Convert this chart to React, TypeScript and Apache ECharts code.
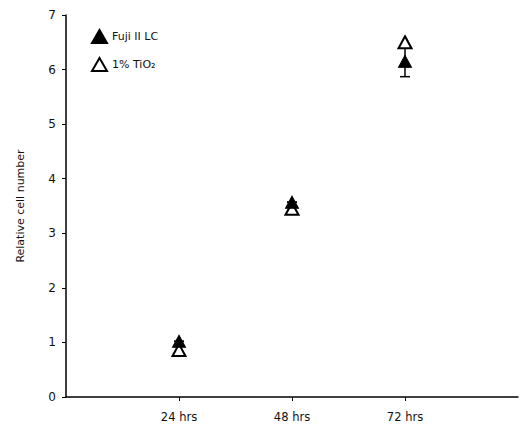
import React, { useEffect, useRef } from "react";
import * as echarts from "echarts";

const timeLabels = ["24 hrs", "48 hrs", "72 hrs"];
const fujiValues = [1.02, 3.57, 6.15];
const tio2Values = [0.86, 3.45, 6.5];
const fujiErrLow = [1.02, 3.57, 5.87];
const fujiErrHigh = [1.02, 3.57, 6.43];
const yTicks = [0, 1, 2, 3, 4, 5, 6, 7];

export default function App() {
  const ref = useRef<HTMLDivElement>(null);
  useEffect(() => {
    if (!ref.current) return;
    const chart = echarts.init(ref.current, null, { renderer: "svg" });
    const cats = ["", ...timeLabels, ""];
    const font = "DejaVu Sans";
    const errData = timeLabels.map((_, i) => [i + 1, fujiErrLow[i], fujiErrHigh[i]]);
    chart.setOption({
      animation: false,
      backgroundColor: "#fff",
      textStyle: { fontFamily: font, color: "#111" },
      grid: { left: 66, right: 4, top: 15, bottom: 30, containLabel: false },
      legend: {
        orient: "vertical",
        left: 86,
        top: 24,
        itemGap: 13,
        itemWidth: 15,
        itemHeight: 13,
        textStyle: { fontFamily: font, fontSize: 11, color: "#111" },
        data: [
          { name: "Fuji II LC", icon: "triangle" },
          { name: "1% TiO₂", icon: "triangle" },
        ],
      },
      xAxis: {
        type: "category",
        data: cats,
        boundaryGap: false,
        axisLine: { lineStyle: { color: "#000", width: 1.5 } },
        axisTick: {
          length: 4,
          interval: (idx: number) => idx > 0 && idx < cats.length - 1,
          lineStyle: { color: "#000" },
        },
        axisLabel: {
          interval: 0,
          fontFamily: font,
          fontSize: 11.5,
          color: "#111",
          margin: 14,
        },
        splitLine: { show: false },
      },
      yAxis: {
        type: "value",
        min: yTicks[0],
        max: yTicks[yTicks.length - 1],
        interval: 1,
        name: "Relative cell number",
        nameLocation: "middle",
        nameGap: 40,
        nameTextStyle: { fontFamily: font, fontSize: 11, color: "#111" },
        axisLine: { show: true, lineStyle: { color: "#000", width: 1.5 } },
        axisTick: { show: true, length: 4, lineStyle: { color: "#000" } },
        axisLabel: { fontFamily: font, fontSize: 12, color: "#111", margin: 10 },
        splitLine: { show: false },
      },
      series: [
        {
          type: "custom",
          name: "err",
          z: 1,
          data: errData,
          renderItem: (params: any, api: any) => {
            const x = api.value(0);
            const lo = api.coord([x, api.value(1)]);
            const hi = api.coord([x, api.value(2)]);
            const hw = 5;
            const style = { stroke: "#000", lineWidth: 1.5 };
            return {
              type: "group",
              children: [
                { type: "line", shape: { x1: lo[0], y1: lo[1], x2: hi[0], y2: hi[1] }, style },
                { type: "line", shape: { x1: lo[0] - hw, y1: lo[1], x2: lo[0] + hw, y2: lo[1] }, style },
                { type: "line", shape: { x1: hi[0] - hw, y1: hi[1], x2: hi[0] + hw, y2: hi[1] }, style },
              ],
            };
          },
        },
        {
          type: "scatter",
          name: "Fuji II LC",
          z: 3,
          symbol: "triangle",
          symbolSize: [13, 12],
          itemStyle: { color: "#000", borderColor: "#000", borderWidth: 1, opacity: 1 },
          data: fujiValues.map((v, i) => [i + 1, v]),
        },
        {
          type: "scatter",
          name: "1% TiO₂",
          z: 2,
          symbol: "triangle",
          symbolSize: [13, 12],
          itemStyle: { color: "#fff", borderColor: "#000", borderWidth: 2, opacity: 1 },
          data: tio2Values.map((v, i) => [i + 1, v]),
        },
      ],
    });
    return () => chart.dispose();
  }, []);
  return (
    <div
      ref={ref}
      style={{ position: "fixed", left: 0, top: 0, width: 522, height: 427, background: "#fff" }}
    />
  );
}
